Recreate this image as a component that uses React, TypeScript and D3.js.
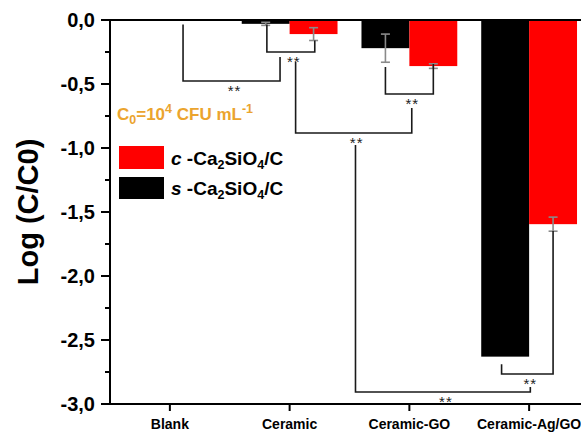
import React from 'react'
import * as d3 from 'd3'

// values (log reduction)
const categories = ['Blank', 'Ceramic', 'Ceramic-GO', 'Ceramic-Ag/GO']
const sValues = [0, -0.03, -0.22, -2.63]
const sErrors = [0, 0.012, 0.11, 0]
const cValues = [0, -0.11, -0.36, -1.595]
const cErrors = [0, 0.05, 0.018, 0.055]
const yTicks = [0, -0.5, -1, -1.5, -2, -2.5, -3]
const yTickLabels = ['0,0', '-0,5', '-1,0', '-1,5', '-2,0', '-2,5', '-3,0']
const yMinorTicks = [-0.25, -0.75, -1.25, -1.75, -2.25, -2.75]

// significance brackets in data units: category index and log value
const sigBrackets = [
  { x1: 0.11, x2: 0.92, y1: -0.035, y2: -0.29, yh: -0.477 },
  { x1: 0.81, x2: 1.21, y1: -0.035, y2: -0.16, yh: -0.25 },
  { x1: 1.8, x2: 2.2, y1: -0.367, y2: -0.344, yh: -0.578 },
  { x1: 1.05, x2: 2.02, y1: -0.328, y2: -0.688, yh: -0.883 },
  { x1: 1.55, x2: 3.01, y1: -0.977, y2: -2.867, yh: -2.906 },
  { x1: 2.77, x2: 3.2, y1: -2.69, y2: -1.648, yh: -2.766 },
]

const W = 581
const H = 433
const font = 'Liberation Sans, Arial, Helvetica, sans-serif'
const orange = '#EBA42E'

export default function App() {
  const x = d3.scaleLinear().domain([-0.5, 3.5]).range([110, 589])
  const y = d3.scaleLinear().domain([0, -3]).range([20, 404])
  const bw = 0.4
  const y0 = y(0)

  const errBar = (cx: number, v: number, e: number, key: string) => {
    if (!e) return null
    const px = x(cx)
    return (
      <g key={key} stroke="#8a8a8a" strokeWidth={1.6}>
        <line x1={px} x2={px} y1={y(v + e)} y2={y(v - e)} />
        <line x1={px - 4.5} x2={px + 4.5} y1={y(v + e)} y2={y(v + e)} />
        <line x1={px - 4.5} x2={px + 4.5} y1={y(v - e)} y2={y(v - e)} />
      </g>
    )
  }

  return (
    <svg width={W} height={H} style={{ position: 'absolute', left: 0, top: 0, background: '#fff' }} fontFamily={font}>
      {/* bars */}
      {categories.map((c, i) =>
        sValues[i] !== 0 ? (
          <rect key={'s' + c} x={x(i - bw)} y={y0} width={x(i) - x(i - bw)} height={y(sValues[i]) - y0} fill="#000" />
        ) : null
      )}
      {categories.map((c, i) =>
        cValues[i] !== 0 ? (
          <rect key={'c' + c} x={x(i)} y={y0} width={x(i + bw) - x(i)} height={y(cValues[i]) - y0} fill="#ff0000" />
        ) : null
      )}
      {categories.map((c, i) => errBar(i - bw / 2, sValues[i], sErrors[i], 'es' + c))}
      {categories.map((c, i) => errBar(i + bw / 2, cValues[i], cErrors[i], 'ec' + c))}

      {/* significance brackets */}
      {sigBrackets.map((b, i) => (
        <g key={'b' + i}>
          <path
            d={`M${x(b.x1)},${y(b.y1)}V${y(b.yh)}H${x(b.x2)}V${y(b.y2)}`}
            fill="none"
            stroke="#1a1a1a"
            strokeWidth={1.6}
          />
          <text x={(x(b.x1) + x(b.x2)) / 2 + 3} y={y(b.yh) + 15} fontSize={15} fill="#222" textAnchor="middle" letterSpacing={1}>
            **
          </text>
        </g>
      ))}

      {/* axes */}
      <line x1={110} x2={W} y1={y0} y2={y0} stroke="#000" strokeWidth={2} />
      <line x1={110} x2={W} y1={y(-3)} y2={y(-3)} stroke="#000" strokeWidth={2} />
      <line x1={110} x2={110} y1={y0} y2={y(-3)} stroke="#000" strokeWidth={2} />
      {yTicks.map((t, i) => (
        <g key={'yt' + t}>
          <line x1={101} x2={110} y1={y(t)} y2={y(t)} stroke="#000" strokeWidth={2} />
          <text x={95} y={y(t) + 7} fontSize={20} fontWeight="bold" textAnchor="end" fill="#000">
            {yTickLabels[i]}
          </text>
        </g>
      ))}
      {yMinorTicks.map((t) => (
        <line key={'ym' + t} x1={105} x2={110} y1={y(t)} y2={y(t)} stroke="#000" strokeWidth={2} />
      ))}
      {categories.map((c, i) => (
        <g key={'xt' + c}>
          <line x1={x(i)} x2={x(i)} y1={y(-3)} y2={y(-3) + 7} stroke="#000" strokeWidth={2} />
          <text x={x(i)} y={429} fontSize={14} fontWeight="bold" textAnchor="middle" fill="#000">
            {c}
          </text>
        </g>
      ))}

      {/* y axis title */}
      <text
        transform={`translate(38,${(y0 + y(-3)) / 2}) rotate(-90)`}
        fontSize={29}
        fontWeight="bold"
        textAnchor="middle"
        fill="#000"
      >
        Log (C/C0)
      </text>

      {/* inoculum note */}
      <text x={117} y={120} fontSize={17} fontWeight="bold" fill={orange}>
        C<tspan fontSize={12.5} dy={4}>0</tspan>
        <tspan dy={-4}>=10</tspan>
        <tspan fontSize={12.5} dy={-7}>4</tspan>
        <tspan dy={7}> CFU mL</tspan>
        <tspan fontSize={12.5} dy={-7}>-1</tspan>
      </text>

      {/* legend */}
      <rect x={119} y={146} width={45} height={23} fill="#ff0000" />
      <rect x={119} y={177} width={45} height={22} fill="#000" />
      <text x={171} y={165} fontSize={19} fontWeight="bold" fill="#000">
        <tspan fontStyle="italic">c</tspan> -Ca<tspan fontSize={12.5} dy={4}>2</tspan>
        <tspan dy={-4}>SiO</tspan>
        <tspan fontSize={12.5} dy={4}>4</tspan>
        <tspan dy={-4}>/C</tspan>
      </text>
      <text x={171} y={195} fontSize={19} fontWeight="bold" fill="#000">
        <tspan fontStyle="italic">s</tspan> -Ca<tspan fontSize={12.5} dy={4}>2</tspan>
        <tspan dy={-4}>SiO</tspan>
        <tspan fontSize={12.5} dy={4}>4</tspan>
        <tspan dy={-4}>/C</tspan>
      </text>
    </svg>
  )
}
